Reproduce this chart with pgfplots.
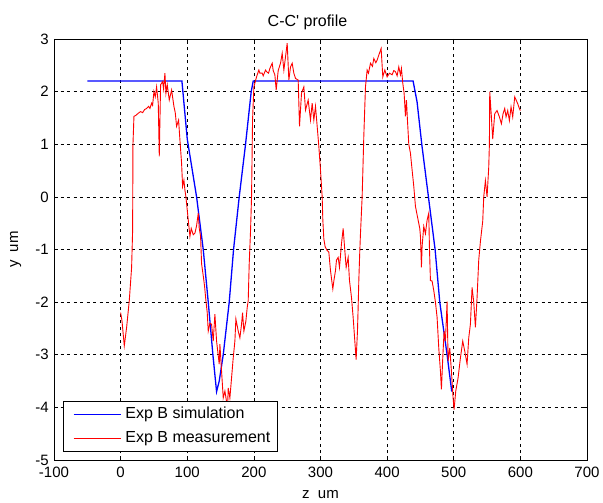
\documentclass[border=0pt]{standalone}
\usepackage{fontspec}
\setmainfont{Liberation Sans}
\usepackage{pgfplots}
\pgfplotsset{compat=1.18}
\begin{document}
\fontsize{15bp}{17bp}\selectfont
\begin{tikzpicture}
\begin{axis}[
  name=ax,
  scale only axis,
  width=533bp, height=421bp,
  xmin=-100, xmax=700, ymin=-5, ymax=3,
  xtick={-100,0,...,700}, ytick={-5,-4,...,3},
  /pgf/number format/assume math mode=true,
  ticklabel style={font=\fontsize{15bp}{17bp}\selectfont},
  xticklabel style={yshift=-2bp},
  label style={font=\fontsize{15bp}{17bp}\selectfont},
  title style={font=\fontsize{16bp}{18bp}\selectfont, yshift=-2bp, xshift=-13bp},
  title={C-C\textquotesingle\ profile},
  xlabel={z\ \ um}, ylabel={y\ \ um},
  xlabel style={yshift=-2bp},
  ylabel style={yshift=4bp},
  grid=major,
  major grid style={black, line width=0.7bp, dash pattern=on 3bp off 3.5bp},
  tick align=inside,
  major tick length=4bp,
  axis line style={black, line width=0.8bp},
  tick style={black, line width=0.7bp},
  legend cell align=left,
  legend style={at={(0.0163,0.0197)}, anchor=south west, fill=white,
    line width=0.8bp, font=\fontsize{16bp}{18bp}\selectfont,
    inner xsep=5bp, inner ysep=3bp, row sep=4bp, column sep=2bp,
    nodes={text height=12bp, text depth=4bp, inner sep=2bp}},
  legend image code/.code={\path (0bp,0bp); \draw[#1] (5bp,0bp) -- (52bp,0bp);},
]
\addplot[draw=blue, line width=1.3bp] coordinates {
(-50,2.2)(92,2.2)(100,1.1)(114,0)(124,-1)(131.5,-2)(138.5,-3)(144,-3.7)(148,-3.5)(154,-3)(163,-2)(169.5,-1)(178,0)(187.5,1)(196,2)(199,2.2)
(439,2.2)(445,1.8)(452,1.0)(462,0)(472,-1)(479,-2)(490,-3)(497,-3.7)
};
\addlegendentry{Exp B simulation}
\addplot[draw=red, line width=0.9bp] coordinates {
(0,-2.2)(2,-2.35)(5.5,-2.83)(9,-2.48)(13,-1.97)(16.5,-1.34)(18,-0.64)(18.5,0.99)(20,1.53)(23,1.55)(26.5,1.59)(30,1.62)(33,1.6)(36,1.66)(39,1.68)(42,1.72)(44,1.68)(46.5,1.78)(48,1.74)(50,2.0)(52,1.9)(54,2.09)(56.5,1.78)(58,0.77)(60,2.13)(63,2.19)(64.5,2.05)(66.5,2.35)(68,1.97)(70,2.13)(73,1.84)(76.5,2.03)(80,1.72)(82,1.6)(84,1.34)(87,1.46)(89,1.08)(91.5,0.64)(93,0.2)(95,0.32)(96.5,0.13)(98,0.0)(101.5,-0.44)(104,-0.75)(106,-0.6)(109,-0.72)(111.5,-0.69)(114,-0.55)(116.5,-0.31)(118,-0.6)(120,-0.75)(121.5,-1.27)(124,-1.5)(126,-1.7)(128,-1.97)(130,-2.2)(131.5,-2.55)(134,-2.4)(136.5,-2.42)(139,-2.74)(141.5,-2.23)(144,-2.74)(148,-3.18)(149,-2.8)(151.5,-3.31)(154,-3.82)(156.5,-3.69)(159,-3.89)(160.5,-4.0)(161.5,-3.63)(164,-3.82)(166.5,-3.44)(169,-3.06)(171.5,-2.74)(173,-2.32)(176.5,-2.55)(179,-2.68)(181.5,-2.42)(183,-2.2)(185,-2.55)(188,-2.36)(190,-2.1)(191.5,-1.97)(193,-1.27)(195,-0.64)(196.5,0)(198,1.46)(200,2.09)(204,2.28)(207.5,2.41)(209,2.35)(212.5,2.35)(214,2.3)(217.5,2.41)(219,2.38)(222,2.35)(224,2.44)(227.5,2.54)(229,2.4)(231.5,2.32)(233.5,2.03)(236.5,2.4)(240,2.54)(242.5,2.73)(245,2.41)(247.5,2.66)(250,2.92)(252.5,2.22)(255,2.47)(257.5,2.54)(260,2.35)(262.5,2.25)(266.5,2.22)(268.5,1.34)(271.5,1.97)(275,2.09)(277.5,1.65)(281.5,1.84)(285,1.46)(287.5,1.78)(290,1.46)(292.5,1.72)(295,1.34)(297.5,0.96)(300,0.51)(302.5,0.0)(303.5,-0.44)(305,-0.8)(307,-0.95)(310,-1.02)(312.5,-1.05)(315,-1.4)(318.5,-1.75)(320,-1.6)(322.5,-1.4)(324,-1.2)(326.5,-1.15)(328.5,-1.34)(331.5,-0.89)(334,-0.6)(336.5,-1.02)(338.5,-1.34)(341.5,-1.15)(343.5,-1.59)(346.5,-1.91)(349,-2.29)(351.5,-2.74)(353.5,-3.09)(355.5,-2.55)(356.5,-2.1)(357.5,-1.59)(359,-1.02)(360,-0.7)(362.5,0)(365,1.15)(367.5,2.09)(370,2.41)(372,2.35)(375,2.54)(378,2.48)(380,2.63)(383,2.55)(385,2.6)(388.5,2.73)(391,2.82)(393.5,2.28)(396.5,2.41)(400,2.28)(403.5,2.35)(407.5,2.32)(410,2.4)(412.5,2.38)(415,2.3)(417.5,2.47)(420,2.32)(421.5,2.44)(423.5,2.16)(425.5,1.97)(427.5,1.53)(429,1.84)(430.5,1.46)(432.5,1.0)(435,0.83)(437.5,0.51)(440,0.2)(442.5,-0.18)(446.5,-0.44)(449,-0.6)(450,-0.75)(451.5,-1.34)(452.5,-0.94)(455,-0.56)(457.5,-0.7)(460,-0.44)(462.5,-0.31)(463.5,-0.96)(465,-1.59)(467.5,-1.6)(470,-1.78)(472.5,-2.0)(475,-2.29)(477.5,-2.87)(480,-3.31)(481.5,-3.66)(483.5,-3.06)(485.5,-2.55)(487.5,-2.74)(490,-1.99)(491.5,-3.12)(494,-2.87)(496.5,-3.31)(499,-3.82)(500.5,-4.04)(503,-3.69)(506.5,-3.44)(510,-3.06)(513.5,-2.74)(516.5,-2.93)(520,-3.18)(522.5,-2.68)(525,-2.42)(527.5,-1.72)(530,-2.0)(532.5,-2.48)(535,-1.91)(537.5,-1.2)(540,-0.85)(543.5,-0.46)(545,0)(547.5,0.31)(550,0.0)(552.5,0.56)(553.5,1.0)(554,2.0)(556.5,1.52)(558.5,1.1)(561.5,1.58)(565,1.64)(568.5,1.52)(571.5,1.39)(574,1.58)(576.5,1.68)(578.5,1.52)(581,1.64)(583.5,1.45)(586,1.71)(588.5,1.52)(591.5,1.9)(594,1.83)(596,1.77)(598.5,1.68)(600,1.64)
};
\addlegendentry{Exp B measurement}
\end{axis}
\pgfresetboundingbox
\useasboundingbox ([shift={(-54bp,-43bp)}]ax.south west) rectangle ([shift={(16bp,39bp)}]ax.north east);
\end{tikzpicture}
\end{document}
